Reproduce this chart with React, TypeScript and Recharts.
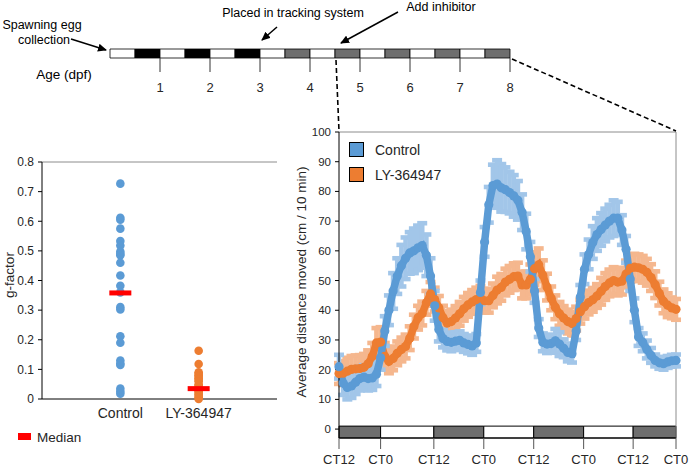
import React from 'react';
import {
  BarChart, Bar, ComposedChart, ScatterChart, Scatter, Line, XAxis, YAxis,
  ReferenceArea, ReferenceLine, ErrorBar,
} from 'recharts';

const FONT = '"Liberation Sans", Arial, sans-serif';
const BLUE = '#5b9bd5';
const BLUE_LIGHT = '#a2c6e9';
const ORANGE = '#ed7d31';
const ORANGE_LIGHT = '#f5b78e';
const TXT = '#262626';

// ---- age timeline (half-day segments, days 0..8) ----
const ageDays = [1, 2, 3, 4, 5, 6, 7, 8];
const agePhases = ['L', 'D', 'L', 'D', 'L', 'D', 'L', 'SD', 'L', 'SD', 'L', 'SD', 'L', 'SD', 'L', 'SD'];
const phaseFill: Record<string, string> = { L: '#ffffff', D: '#000000', SD: '#6e6e6e' };

// ---- g-factor ----
const groups = ['Control', 'LY-364947'];
const controlG = [0.727, 0.612, 0.605, 0.575, 0.533, 0.518, 0.498, 0.49, 0.485, 0.46, 0.417, 0.382,
  0.36, 0.31, 0.302, 0.212, 0.19, 0.13, 0.12, 0.115, 0.035, 0.025, 0.018];
const lyG = [0.163, 0.118, 0.09, 0.085, 0.08, 0.075, 0.07, 0.065, 0.06, 0.05, 0.045, 0.04, 0.03,
  0.025, 0.02, 0.015, 0.01, 0.005, 0];
const medians = [0.358, 0.035];
const gTicks = [0, 0.1, 0.2, 0.3, 0.4, 0.5, 0.6, 0.7, 0.8];

// ---- activity, hourly bins from CT12 ----
const controlMean = [
  21, 15.5, 14, 14.5, 15.8, 17, 17.5, 17, 17.2, 18.5,
  24, 33, 40, 46.5, 51.5, 55, 57.5, 59.3, 60, 61,
  61.8, 58.5, 51.5, 41.5, 33.5, 30.5, 29.5, 29.2, 29.6, 29.9,
  29, 28.5, 28, 29, 46, 63, 75.5, 82, 82.5, 81.2,
  80.6, 79.6, 78.5, 77, 73, 66.5, 58, 46.5, 34, 29.2,
  28.6, 28.8, 29.7, 28.6, 27.2, 25.8, 25.4, 33, 44.5, 53.8,
  58.8, 62.8, 65.5, 67.2, 68.7, 70, 71, 71, 67, 60.5,
  50.5, 40, 31, 29.2, 26.8, 24.8, 23.1, 22.3, 22, 22.6,
  23, 23.1,
];
const controlErr = [
  4, 4, 4, 4, 4, 4, 4, 4, 4, 4,
  4, 5, 5, 6, 6, 7, 7, 7, 7.5, 7.5, 7.5,
  7, 6, 5, 4, 3, 3, 3, 3, 3, 3, 3, 3,
  3, 4, 5, 6, 7, 8, 8, 7.5, 7, 7, 6.5, 6, 6, 5,
  4, 3, 3, 3, 3, 4, 4, 3, 3, 3,
  3, 4, 5, 5, 5.5, 5.5, 5.5, 5.5, 5.5, 6, 5.5, 5, 4.5, 4,
  4, 3, 3, 3, 2.5, 2, 2, 2, 2, 2, 2,
];
const lyMean = [
  18.7, 18.8, 19.5, 20.1, 20.3, 20.4, 20.8, 22, 24.5, 29,
  29.3, 24.5, 22.8, 23.8, 25.5, 26.8, 27.8, 30.6, 34.5, 37.5,
  38.9, 42.5, 45.5, 43.6, 40.8, 37.5, 35.7, 36.2, 37.4, 38.8,
  40.5, 41.8, 42.8, 43.6, 44.2, 43.2, 43.2, 45, 46.8, 47.7,
  49.5, 50.4, 51.3, 51.5, 48.5, 48.5, 50.4, 54, 55.3, 51.8,
  47.8, 44, 41, 38.8, 37.4, 36.2, 35.5, 37.2, 39.5, 41.2,
  42.6, 43.5, 44.8, 46.4, 48, 49.2, 50, 49.5, 49.8, 52.2,
  54.1, 54.5, 54.3, 53.8, 52.8, 51, 48.6, 45.6, 43, 41.7,
  40.8, 40.3,
];
const lyErr = [
  3.5, 4, 4.5, 4.5, 4.5, 4.5, 4.5, 4.5, 4.5, 5,
  5, 4.5, 4, 4, 4, 4, 4, 4, 4, 4, 4,
  4, 4, 4, 4, 4, 4, 4, 4, 4, 4, 4, 4,
  4, 4, 4, 4, 4, 4.5, 4.5, 4.5, 4.5, 4.5, 4.5, 4.5, 4.5, 5,
  5.5, 5.5, 5, 4.5, 4, 4, 4, 4, 4, 4,
  4, 4, 4, 4, 4, 4, 4.5, 4.5, 4.5, 4.5, 4.5, 4.5, 4.5, 4.5,
  4.5, 4.5, 4.5, 4.5, 4.5, 4.5, 4, 4, 4, 3.5, 3.5,
];
const ctTickHours = [0, 10, 22.8, 34.8, 46.8, 58.8, 70.7, 81];
const ctTickLabels = ['CT12', 'CT0', 'CT12', 'CT0', 'CT12', 'CT0', 'CT12', 'CT0'];
const ctPhases = ['night', 'day', 'night', 'day', 'night', 'day', 'night'];
const activityTicks = [0, 10, 20, 30, 40, 50, 60, 70, 80, 90, 100];
const seriesNames = ['Control', 'LY-364947'];

const ageRow = [agePhases.reduce((o: any, _p, i) => ({ ...o, [`s${i}`]: 0.5 }), { name: 'age' })];
const controlPts = controlG.map((y) => ({ x: 1, y }));
const lyPts = lyG.map((y) => ({ x: 2, y }));
const medianPts = medians.map((y, i) => ({ x: i + 1, y }));
const activityRows = controlMean.map((v, i) => ({
  h: i, control: v, controlErr: controlErr[i], ly: lyMean[i], lyErr: lyErr[i],
}));

const Dot = (color: string, r: number) => (p: any) =>
  p.cx == null ? <g /> : <circle cx={p.cx} cy={p.cy} r={r} fill={color} />;

const MedianMark = (p: any) => <rect x={p.cx - 11} y={p.cy - 2.5} width={22} height={5} fill="#ff0000" />;

export default function App() {
  return (
    <div style={{ position: 'absolute', left: 0, top: 0, width: 690, height: 466, background: '#fff', fontFamily: FONT, overflow: 'hidden' }}>
      {/* age timeline */}
      <div style={{ position: 'absolute', left: 100, top: 40 }}>
        <BarChart width={430} height={60} layout="vertical" data={ageRow} barCategoryGap={0}
          margin={{ top: 9, right: 20, bottom: 0, left: 10 }}>
          <XAxis type="number" domain={[0, 8]} ticks={ageDays} interval={0} axisLine={false}
            tickSize={14} tickMargin={11} height={42} tickLine={{ stroke: '#333' }}
            tick={{ fill: TXT, fontSize: 13, fontFamily: FONT }} />
          <YAxis type="category" dataKey="name" hide />
          {agePhases.map((p, i) => (
            <Bar key={i} dataKey={`s${i}`} stackId="a" fill={phaseFill[p]} stroke="#000" strokeWidth={0.8}
              isAnimationActive={false} />
          ))}
        </BarChart>
      </div>

      {/* g-factor */}
      <div style={{ position: 'absolute', left: 0, top: 150 }}>
        <ScatterChart width={290} height={290} margin={{ top: 12, right: 13, bottom: 11, left: 0 }}>
          <XAxis type="number" dataKey="x" domain={[0, 3]} ticks={[1, 2]} interval={0}
            tickFormatter={(v: number) => groups[v - 1]} tickLine={false} tickMargin={3} height={30}
            axisLine={{ stroke: '#000' }} tick={{ fill: TXT, fontSize: 14, fontFamily: FONT }} />
          <YAxis type="number" dataKey="y" domain={[0, 0.8]} ticks={gTicks} interval={0} width={42}
            tickFormatter={(v: number) => (v === 0 ? '0' : v.toFixed(1))} tickSize={4} tickMargin={4}
            axisLine={{ stroke: '#000' }} tickLine={{ stroke: '#000' }}
            tick={{ fill: TXT, fontSize: 12, fontFamily: FONT }} />
          <ReferenceLine y={0.8} stroke="#8c8c8c" />
          <Scatter data={controlPts} fill={BLUE} shape={Dot(BLUE, 4.3)} isAnimationActive={false} />
          <Scatter data={lyPts} fill={ORANGE} shape={Dot(ORANGE, 4.3)} isAnimationActive={false} />
          <Scatter data={medianPts} fill="#ff0000" shape={MedianMark} isAnimationActive={false} />
        </ScatterChart>
      </div>

      {/* activity */}
      <div style={{ position: 'absolute', left: 290, top: 120 }}>
        <ComposedChart width={400} height={346} data={activityRows} margin={{ top: 12, right: 14, bottom: 0, left: 0 }}>
          <XAxis type="number" dataKey="h" domain={[0, 81]} ticks={ctTickHours} interval={0}
            tickFormatter={(_v: number, i: number) => ctTickLabels[i]} tickSize={11} tickMargin={6} height={28}
            axisLine={{ stroke: '#000' }} tickLine={{ stroke: '#555' }}
            tick={{ fill: TXT, fontSize: 13, fontFamily: FONT }} />
          <YAxis type="number" domain={[-3, 100]} ticks={activityTicks} interval={0} width={49}
            tickSize={4} tickMargin={4} axisLine={{ stroke: '#000' }} tickLine={{ stroke: '#000' }}
            tick={{ fill: TXT, fontSize: 11.5, fontFamily: FONT }} />
          <ReferenceLine y={100} stroke="#8c8c8c" />
          <ReferenceLine x={81} stroke="#8c8c8c" />
          {ctPhases.map((p, i) => (
            <ReferenceArea key={i} x1={ctTickHours[i]} x2={ctTickHours[i + 1]} y1={-3} y2={1}
              fill={p === 'night' ? '#6e6e6e' : '#ffffff'} fillOpacity={1} stroke="#000" strokeWidth={1} />
          ))}
          <Line dataKey="ly" stroke="none" dot={false} isAnimationActive={false}>
            <ErrorBar dataKey="lyErr" width={5} stroke={ORANGE_LIGHT} strokeWidth={4.6} direction="y" />
          </Line>
          <Line dataKey="control" stroke="none" dot={false} isAnimationActive={false}>
            <ErrorBar dataKey="controlErr" width={5} stroke={BLUE_LIGHT} strokeWidth={4.6} direction="y" />
          </Line>
          <Line dataKey="ly" stroke={ORANGE} strokeWidth={7.5} dot={Dot(ORANGE, 4.6)} isAnimationActive={false} />
          <Line dataKey="control" stroke={BLUE} strokeWidth={7.5} dot={Dot(BLUE, 4.6)} isAnimationActive={false} />
        </ComposedChart>
      </div>

      {/* annotations */}
      <svg width={690} height={466} style={{ position: 'absolute', left: 0, top: 0, pointerEvents: 'none' }}
        fontFamily={FONT}>
        <defs>
          <marker id="ah" markerWidth={9} markerHeight={8} refX={8} refY={4} orient="auto" markerUnits="userSpaceOnUse">
            <path d="M0,0 L9,4 L0,8 z" fill="#000" />
          </marker>
        </defs>
        <text x={42} y={29} fontSize={12.5} textAnchor="middle" fill="#000">Spawning egg</text>
        <text x={44} y={44} fontSize={12.5} textAnchor="middle" fill="#000">collection</text>
        <line x1={71} y1={39} x2={106} y2={50} stroke="#000" strokeWidth={1.5} markerEnd="url(#ah)" />
        <text x={293} y={17} fontSize={12.5} textAnchor="middle" fill="#000">Placed in tracking system</text>
        <line x1={277} y1={27} x2={262} y2={40} stroke="#000" strokeWidth={1.5} markerEnd="url(#ah)" />
        <text x={441} y={11} fontSize={12.5} textAnchor="middle" fill="#000">Add inhibitor</text>
        <line x1={398} y1={12} x2={341} y2={43} stroke="#000" strokeWidth={1.5} markerEnd="url(#ah)" />
        <text x={64} y={79} fontSize={13.5} textAnchor="middle" fill="#000">Age (dpf)</text>
        <line x1={336} y1={60} x2={339} y2={131} stroke="#000" strokeWidth={1.6} strokeDasharray="5 3" />
        <line x1={512} y1={59} x2={676} y2={131} stroke="#000" strokeWidth={1.6} strokeDasharray="5 3" />

        <text transform="translate(14,275) rotate(-90)" fontSize={13.5} textAnchor="middle" fill={TXT}>g-factor</text>
        <rect x={18} y={433} width={13} height={7} fill="#ff0000" />
        <text x={37} y={442} fontSize={13.5} fill={TXT}>Median</text>

        <text transform="translate(306,282) rotate(-90)" fontSize={13.5} textAnchor="middle" fill={TXT}>
          Average distance moved (cm / 10 min)
        </text>
        {seriesNames.map((n, i) => (
          <g key={n}>
            <rect x={349.5} y={142.5 + i * 25} width={14} height={14} fill={i === 0 ? BLUE : ORANGE} stroke="#000" strokeWidth={1} />
            <text x={375} y={154.5 + i * 25} fontSize={14} fill={TXT}>{n}</text>
          </g>
        ))}
      </svg>
    </div>
  );
}
